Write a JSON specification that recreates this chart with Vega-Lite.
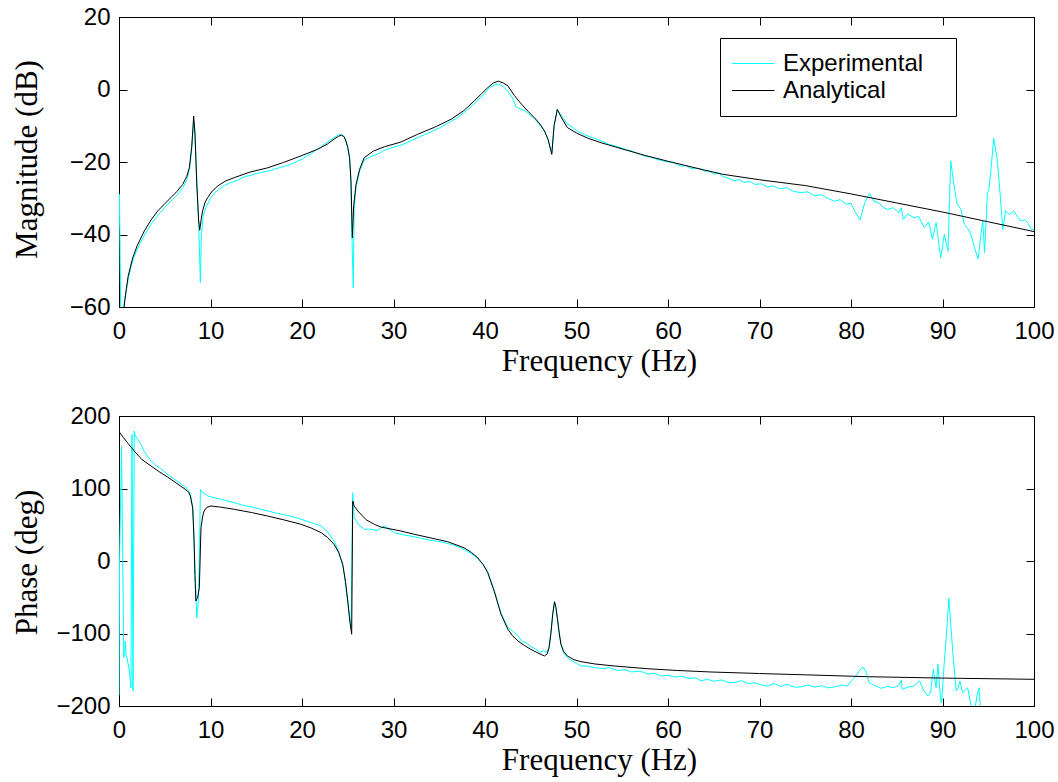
{
  "$schema": "https://vega.github.io/schema/vega-lite/v6.json",
  "autosize": {"type": "pad"},
  "padding": {"left": 10, "top": 4, "right": 5, "bottom": 5},
  "background": "white",
  "spacing": 109,
  "bounds": "flush",
  "config": {
    "view": {"stroke": "black", "strokeWidth": 1},
    "axis": {
      "grid": false,
      "domainColor": "black",
      "tickColor": "black",
      "tickSize": -8,
      "labelFont": "Liberation Sans",
      "labelFontSize": 24,
      "labelColor": "black",
      "labelFlush": false,
      "labelOverlap": false,
      "titleFont": "Liberation Serif",
      "titleFontSize": 31,
      "titleFontWeight": "normal",
      "titleColor": "black"
    },
    "legend": {
      "orient": "none",
      "legendX": 601,
      "legendY": 21,
      "strokeColor": "black",
      "fillColor": "white",
      "padding": 12,
      "symbolOffset": -2,
      "symbolType": "stroke",
      "symbolSize": 1936,
      "symbolStrokeWidth": 1,
      "labelFont": "Liberation Sans",
      "labelFontSize": 24,
      "labelColor": "black",
      "labelOffset": 8,
      "labelLimit": 400,
      "clipHeight": 27,
      "rowPadding": 0
    }
  },
  "datasets": {
    "magE": [
      {"f":0.0,"v":-38},{"f":0.05,"v":-28.9},{"f":0.12,"v":-45},{"f":0.2,"v":-64},{"f":0.45,"v":-64},{"f":0.6,"v":-58},{"f":0.8,"v":-55.5},{"f":1.0,"v":-52.5},{"f":1.3,"v":-49},{"f":1.6,"v":-46.5},{"f":2.0,"v":-44},{"f":2.5,"v":-41.5},{"f":3.0,"v":-39.2},{"f":3.5,"v":-37.2},{"f":4.0,"v":-35.5},{"f":4.5,"v":-34},{"f":5.0,"v":-32.6},{"f":5.5,"v":-31.2},{"f":6.0,"v":-30},{"f":6.5,"v":-28.6},{"f":7.0,"v":-27.0},{"f":7.4,"v":-25},{"f":7.7,"v":-22},{"f":7.95,"v":-16.5},{"f":8.15,"v":-8.5},{"f":8.3,"v":-12},{"f":8.5,"v":-25},{"f":8.7,"v":-36},{"f":8.89,"v":-53.3},{"f":9.0,"v":-40},{"f":9.2,"v":-35},{"f":9.5,"v":-32.5},{"f":10,"v":-30},{"f":10.5,"v":-28.4},{"f":11,"v":-27.4},{"f":11.5,"v":-26.5},{"f":12,"v":-25.9},{"f":12.5,"v":-25.4},{"f":13,"v":-25.0},{"f":13.5,"v":-24.3},{"f":14,"v":-23.9},{"f":14.5,"v":-23.6},{"f":15,"v":-23.2},{"f":15.5,"v":-22.9},{"f":16,"v":-22.6},{"f":16.5,"v":-22.4},{"f":17,"v":-22.0},{"f":17.5,"v":-21.6},{"f":18,"v":-21.2},{"f":18.5,"v":-20.9},{"f":19,"v":-20.4},{"f":19.5,"v":-19.8},{"f":20,"v":-19.2},{"f":20.5,"v":-18.4},{"f":21,"v":-17.7},{"f":21.5,"v":-16.7},{"f":22,"v":-16.0},{"f":22.5,"v":-15.0},{"f":23,"v":-14.1},{"f":23.5,"v":-13.3},{"f":24.0,"v":-12.5},{"f":24.3,"v":-12.4},{"f":24.6,"v":-13},{"f":24.8,"v":-14.2},{"f":25.0,"v":-16},{"f":25.2,"v":-19},{"f":25.35,"v":-26},{"f":25.5,"v":-45},{"f":25.6,"v":-54.7},{"f":25.7,"v":-33},{"f":25.9,"v":-27},{"f":26.3,"v":-22.5},{"f":26.8,"v":-19.5},{"f":27.3,"v":-18.8},{"f":27.8,"v":-18.2},{"f":28.3,"v":-17.8},{"f":28.8,"v":-17.0},{"f":29.3,"v":-16.5},{"f":30,"v":-15.9},{"f":31,"v":-15.2},{"f":32,"v":-14.0},{"f":33,"v":-12.9},{"f":34,"v":-11.8},{"f":35,"v":-10.6},{"f":36,"v":-9.2},{"f":37,"v":-7.8},{"f":38,"v":-5.8},{"f":39,"v":-3.5},{"f":39.8,"v":-1.5},{"f":40.5,"v":0.5},{"f":41.2,"v":1.5},{"f":41.6,"v":1.4},{"f":42.0,"v":0.8},{"f":42.5,"v":-0.5},{"f":43.0,"v":-2.3},{"f":43.4,"v":-4.8},{"f":43.8,"v":-5.3},{"f":44.3,"v":-5.8},{"f":44.8,"v":-6.8},{"f":45.4,"v":-8.0},{"f":46.0,"v":-9.8},{"f":46.5,"v":-11.5},{"f":46.9,"v":-14},{"f":47.3,"v":-17.5},{"f":47.55,"v":-10},{"f":47.9,"v":-5.6},{"f":48.3,"v":-7},{"f":49.0,"v":-9.5},{"f":49.5,"v":-10.3},{"f":50.0,"v":-11.3},{"f":50.5,"v":-12.0},{"f":51,"v":-12.6},{"f":51.5,"v":-13.1},{"f":52,"v":-13.5},{"f":52.5,"v":-14.0},{"f":53,"v":-14.5},{"f":53.5,"v":-15.1},{"f":54,"v":-15.4},{"f":54.5,"v":-15.8},{"f":55,"v":-16.2},{"f":55.5,"v":-16.7},{"f":56,"v":-16.9},{"f":56.5,"v":-17.5},{"f":57,"v":-17.9},{"f":57.5,"v":-18.4},{"f":58,"v":-18.6},{"f":58.5,"v":-19.0},{"f":59,"v":-19.4},{"f":59.5,"v":-19.7},{"f":60,"v":-20.0},{"f":60.5,"v":-20.1},{"f":61,"v":-20.7},{"f":61.5,"v":-21.2},{"f":62,"v":-21.0},{"f":62.5,"v":-21.8},{"f":63,"v":-21.7},{"f":63.6,"v":-21.9},{"f":64,"v":-22.6},{"f":64.5,"v":-22.4},{"f":65,"v":-23.4},{"f":65.5,"v":-23.0},{"f":66,"v":-24.0},{"f":66.5,"v":-24.4},{"f":67.2,"v":-25.1},{"f":67.8,"v":-24.9},{"f":68.3,"v":-25.6},{"f":69,"v":-25.4},{"f":69.5,"v":-26.2},{"f":70.2,"v":-26.0},{"f":70.9,"v":-26.9},{"f":71.5,"v":-26.6},{"f":72.2,"v":-27.4},{"f":73,"v":-27.1},{"f":73.6,"v":-28.0},{"f":74.5,"v":-28.5},{"f":75.2,"v":-28.2},{"f":76,"v":-29.3},{"f":76.8,"v":-29.0},{"f":77.5,"v":-30.1},{"f":78.2,"v":-30.8},{"f":78.8,"v":-30.4},{"f":79.5,"v":-31.6},{"f":80,"v":-31.4},{"f":80.4,"v":-33.5},{"f":81.0,"v":-36.0},{"f":81.5,"v":-31.2},{"f":82.0,"v":-28.7},{"f":82.5,"v":-30.8},{"f":83.0,"v":-31.2},{"f":83.5,"v":-32.5},{"f":84.0,"v":-33.1},{"f":84.6,"v":-32.6},{"f":85.2,"v":-34.0},{"f":85.5,"v":-32.6},{"f":85.7,"v":-35.8},{"f":86.2,"v":-34.3},{"f":86.9,"v":-35.4},{"f":87.4,"v":-35.0},{"f":88.0,"v":-38.1},{"f":88.5,"v":-36.5},{"f":88.9,"v":-41.3},{"f":89.3,"v":-36.7},{"f":89.8,"v":-46.4},{"f":90.2,"v":-40},{"f":90.6,"v":-44.6},{"f":90.9,"v":-19.7},{"f":91.3,"v":-27.1},{"f":91.6,"v":-31.5},{"f":92.0,"v":-33},{"f":92.4,"v":-37.2},{"f":92.8,"v":-38.5},{"f":93.1,"v":-40},{"f":93.5,"v":-43.6},{"f":93.9,"v":-46.8},{"f":94.2,"v":-40},{"f":94.4,"v":-36.3},{"f":94.6,"v":-45.0},{"f":94.9,"v":-28.9},{"f":95.1,"v":-27.1},{"f":95.3,"v":-22},{"f":95.6,"v":-13.5},{"f":96.0,"v":-19.7},{"f":96.3,"v":-28.9},{"f":96.6,"v":-38.6},{"f":96.9,"v":-33.5},{"f":97.3,"v":-34.5},{"f":97.8,"v":-33.5},{"f":98.2,"v":-35.2},{"f":98.6,"v":-36.3},{"f":99.0,"v":-36.0},{"f":99.3,"v":-36.7},{"f":99.7,"v":-38.6},{"f":100,"v":-38.6}
    ],
    "magA": [
      {"f":0.3,"v":-75},{"f":0.55,"v":-60},{"f":0.8,"v":-55},{"f":1.0,"v":-51.5},{"f":1.5,"v":-46.4},{"f":2.0,"v":-43},{"f":2.77,"v":-39.0},{"f":3.5,"v":-36},{"f":4.23,"v":-33.5},{"f":5.0,"v":-31.5},{"f":5.68,"v":-29.8},{"f":6.3,"v":-28.2},{"f":6.96,"v":-26.2},{"f":7.4,"v":-24.0},{"f":7.69,"v":-21.6},{"f":7.94,"v":-16.0},{"f":8.1,"v":-10},{"f":8.16,"v":-7.3},{"f":8.3,"v":-12},{"f":8.5,"v":-26},{"f":8.7,"v":-36},{"f":8.82,"v":-38.8},{"f":9.0,"v":-35.5},{"f":9.14,"v":-33.5},{"f":9.4,"v":-31.2},{"f":9.69,"v":-29.8},{"f":10.2,"v":-28},{"f":10.8,"v":-26.6},{"f":11.6,"v":-25.3},{"f":12.6,"v":-24.3},{"f":14.3,"v":-22.8},{"f":16.25,"v":-21.6},{"f":18,"v":-20.1},{"f":19.9,"v":-18.3},{"f":21.7,"v":-16.5},{"f":22.8,"v":-15.0},{"f":23.5,"v":-13.7},{"f":24.0,"v":-12.9},{"f":24.3,"v":-12.6},{"f":24.6,"v":-13.0},{"f":24.8,"v":-14.2},{"f":25.0,"v":-16.0},{"f":25.2,"v":-18.8},{"f":25.35,"v":-25},{"f":25.5,"v":-40.9},{"f":25.65,"v":-32},{"f":25.9,"v":-26.2},{"f":26.3,"v":-22},{"f":26.8,"v":-18.8},{"f":27.8,"v":-17.0},{"f":29.0,"v":-15.8},{"f":30.8,"v":-14.5},{"f":32.6,"v":-12.4},{"f":34.5,"v":-10.4},{"f":36.3,"v":-8.2},{"f":37.7,"v":-5.8},{"f":38.8,"v":-3.2},{"f":39.6,"v":-1.2},{"f":40.3,"v":0.5},{"f":40.9,"v":1.8},{"f":41.45,"v":2.3},{"f":42.0,"v":1.8},{"f":42.5,"v":1.0},{"f":43.2,"v":-1.6},{"f":44.0,"v":-4.1},{"f":44.7,"v":-6.0},{"f":45.4,"v":-7.8},{"f":46.0,"v":-9.5},{"f":46.5,"v":-11.4},{"f":46.9,"v":-13.8},{"f":47.3,"v":-17.9},{"f":47.55,"v":-10},{"f":47.9,"v":-5.5},{"f":48.3,"v":-7.5},{"f":49.0,"v":-10.5},{"f":50.0,"v":-12.0},{"f":51.2,"v":-13.4},{"f":52.7,"v":-14.7},{"f":55,"v":-16.4},{"f":57.5,"v":-18.2},{"f":60,"v":-19.8},{"f":63.6,"v":-22.0},{"f":66,"v":-23.4},{"f":70,"v":-24.9},{"f":75,"v":-26.5},{"f":80,"v":-28.8},{"f":85,"v":-31.3},{"f":90,"v":-33.8},{"f":95,"v":-36.5},{"f":100,"v":-39.2}
    ],
    "phE": [
      {"f":0.0,"v":-185},{"f":0.06,"v":0},{"f":0.28,"v":158.6},{"f":0.42,"v":-9},{"f":0.52,"v":-133.4},{"f":0.62,"v":-125},{"f":0.68,"v":-110.3},{"f":0.77,"v":-128.7},{"f":0.9,"v":-135},{"f":1.13,"v":-151.7},{"f":1.31,"v":-174.8},{"f":1.42,"v":174.8},{"f":1.53,"v":-179.3},{"f":1.67,"v":179.3},{"f":1.8,"v":172},{"f":2.04,"v":167.8},{"f":2.4,"v":161},{"f":2.8,"v":150},{"f":3.2,"v":143},{"f":3.5,"v":137.9},{"f":4.0,"v":132},{"f":4.5,"v":128},{"f":5.3,"v":119.6},{"f":6.0,"v":113},{"f":6.6,"v":108},{"f":7.1,"v":103.4},{"f":7.5,"v":99},{"f":7.8,"v":92},{"f":8.1,"v":70},{"f":8.3,"v":-10},{"f":8.5,"v":-78.2},{"f":8.67,"v":-55.2},{"f":8.8,"v":20},{"f":8.9,"v":98.9},{"f":9.2,"v":94},{"f":9.7,"v":89.7},{"f":10.5,"v":87},{"f":11.5,"v":84},{"f":12.6,"v":80.4},{"f":13.5,"v":77},{"f":14.5,"v":74.5},{"f":15.3,"v":72},{"f":16.25,"v":69},{"f":17.2,"v":66},{"f":18,"v":64},{"f":19,"v":61},{"f":19.9,"v":57.5},{"f":21,"v":53},{"f":22.1,"v":48.3},{"f":22.8,"v":40},{"f":23.5,"v":27.6},{"f":24.0,"v":14},{"f":24.5,"v":-8},{"f":25.0,"v":-55.2},{"f":25.2,"v":-80},{"f":25.36,"v":-92},{"f":25.54,"v":94.1},{"f":25.7,"v":59.7},{"f":26.2,"v":50},{"f":26.8,"v":43.7},{"f":27.5,"v":44},{"f":28.2,"v":42},{"f":29.0,"v":48.3},{"f":30.1,"v":39},{"f":30.8,"v":36.8},{"f":32,"v":34},{"f":33,"v":31.5},{"f":34,"v":28.5},{"f":35,"v":27},{"f":36,"v":24},{"f":37,"v":20},{"f":38,"v":14},{"f":39,"v":6},{"f":39.8,"v":-5},{"f":40.3,"v":-15},{"f":41.0,"v":-40},{"f":41.75,"v":-72},{"f":42.5,"v":-92},{"f":43.0,"v":-96},{"f":43.3,"v":-100},{"f":43.6,"v":-103},{"f":44.0,"v":-110},{"f":44.5,"v":-113},{"f":45.0,"v":-118},{"f":45.5,"v":-121},{"f":46.0,"v":-126},{"f":46.4,"v":-124},{"f":46.8,"v":-126},{"f":47.0,"v":-118},{"f":47.2,"v":-100},{"f":47.4,"v":-73},{"f":47.6,"v":-57},{"f":47.75,"v":-64},{"f":47.9,"v":-78},{"f":48.1,"v":-100},{"f":48.3,"v":-115},{"f":48.6,"v":-127},{"f":49.0,"v":-133},{"f":49.5,"v":-138},{"f":50,"v":-141},{"f":50.5,"v":-144.8},{"f":51.2,"v":-145},{"f":52,"v":-147},{"f":53,"v":-148.5},{"f":53.6,"v":-147},{"f":54.5,"v":-151},{"f":55.3,"v":-150},{"f":56,"v":-153},{"f":57,"v":-152},{"f":57.8,"v":-156},{"f":58.5,"v":-155},{"f":59.3,"v":-158.6},{"f":60,"v":-157.5},{"f":60.7,"v":-160},{"f":61.5,"v":-159},{"f":62.3,"v":-162},{"f":63,"v":-161},{"f":63.6,"v":-165.5},{"f":64.3,"v":-163},{"f":65,"v":-166},{"f":65.8,"v":-164},{"f":66.5,"v":-167},{"f":67.2,"v":-167.9},{"f":68,"v":-165},{"f":68.8,"v":-169},{"f":69.5,"v":-168},{"f":70.2,"v":-171},{"f":70.9,"v":-172.4},{"f":71.6,"v":-169},{"f":72.3,"v":-173},{"f":73,"v":-170},{"f":73.8,"v":-174},{"f":74.5,"v":-173.8},{"f":75.3,"v":-171},{"f":76,"v":-174},{"f":76.8,"v":-172},{"f":77.5,"v":-175},{"f":78.2,"v":-173.8},{"f":79,"v":-171},{"f":79.6,"v":-172.4},{"f":80.0,"v":-166},{"f":80.4,"v":-161},{"f":80.9,"v":-151.7},{"f":81.3,"v":-146.2},{"f":81.6,"v":-151.7},{"f":82.0,"v":-167.9},{"f":82.6,"v":-172},{"f":83.3,"v":-175.6},{"f":84.0,"v":-173},{"f":84.7,"v":-174.8},{"f":85.2,"v":-171},{"f":85.5,"v":-164.6},{"f":85.6,"v":-177},{"f":86.2,"v":-174},{"f":86.9,"v":-172.4},{"f":87.5,"v":-165.5},{"f":87.9,"v":-178},{"f":88.4,"v":-186.2},{"f":88.7,"v":-181.6},{"f":89.0,"v":-149.4},{"f":89.3,"v":-174.8},{"f":89.5,"v":-142.5},{"f":89.8,"v":-193},{"f":89.9,"v":-195.4},{"f":90.1,"v":-156.3},{"f":90.5,"v":-89.7},{"f":90.7,"v":-51.5},{"f":90.9,"v":-87.3},{"f":91.2,"v":-138},{"f":91.5,"v":-179.3},{"f":91.7,"v":-174.8},{"f":91.9,"v":-165.5},{"f":92.2,"v":-181.6},{"f":92.75,"v":-174.8},{"f":93.1,"v":-197.7},{"f":93.4,"v":-215},{"f":93.8,"v":-183.9},{"f":94.0,"v":-174.8},{"f":94.2,"v":-215}
    ],
    "phA": [
      {"f":0.0,"v":178.4},{"f":0.5,"v":170},{"f":1.0,"v":162},{"f":1.67,"v":151.7},{"f":2.5,"v":140},{"f":3.5,"v":131},{"f":4.4,"v":123},{"f":5.3,"v":115.9},{"f":6.2,"v":108},{"f":7.1,"v":100.2},{"f":7.6,"v":95},{"f":7.8,"v":89.7},{"f":8.05,"v":73.5},{"f":8.2,"v":30},{"f":8.3,"v":-20},{"f":8.4,"v":-55.2},{"f":8.6,"v":-50},{"f":8.78,"v":-36.8},{"f":8.96,"v":45.9},{"f":9.15,"v":62},{"f":9.3,"v":69},{"f":9.6,"v":74},{"f":10.05,"v":75.9},{"f":11,"v":74.5},{"f":12.6,"v":71.3},{"f":14.5,"v":66.8},{"f":16.25,"v":62},{"f":18,"v":56.8},{"f":19.9,"v":50.6},{"f":21.0,"v":45.5},{"f":22.1,"v":39},{"f":22.8,"v":32.5},{"f":23.5,"v":23},{"f":24.0,"v":12},{"f":24.45,"v":-4.6},{"f":24.75,"v":-28},{"f":25.0,"v":-55.2},{"f":25.25,"v":-85},{"f":25.43,"v":-101},{"f":25.54,"v":82.8},{"f":25.7,"v":76},{"f":26.1,"v":69},{"f":27.0,"v":57},{"f":27.9,"v":50.6},{"f":28.6,"v":46.9},{"f":30.8,"v":41.4},{"f":32.3,"v":36.8},{"f":34,"v":32},{"f":35.9,"v":26.7},{"f":37.7,"v":18.3},{"f":38.5,"v":12},{"f":39.2,"v":4.5},{"f":39.8,"v":-5},{"f":40.3,"v":-16.1},{"f":41.0,"v":-41.4},{"f":41.75,"v":-73.5},{"f":42.5,"v":-94.2},{"f":43.0,"v":-103},{"f":43.6,"v":-110.3},{"f":44.3,"v":-116.5},{"f":45.0,"v":-121.8},{"f":45.8,"v":-127},{"f":46.5,"v":-131},{"f":46.8,"v":-128},{"f":47.0,"v":-119.6},{"f":47.2,"v":-100},{"f":47.4,"v":-73.5},{"f":47.6,"v":-56.1},{"f":47.75,"v":-64},{"f":47.9,"v":-78.2},{"f":48.1,"v":-98},{"f":48.3,"v":-114.9},{"f":48.6,"v":-125},{"f":49.0,"v":-131},{"f":49.7,"v":-136},{"f":50.5,"v":-138.9},{"f":52,"v":-142},{"f":54.1,"v":-144.8},{"f":57.8,"v":-148.6},{"f":61,"v":-151},{"f":64.7,"v":-153.1},{"f":70,"v":-155.2},{"f":75,"v":-157},{"f":81.8,"v":-159.6},{"f":90,"v":-161.5},{"f":100,"v":-163.2}
    ]
  },
  "vconcat": [
    {
      "width": 915,
      "height": 290,
      "layer": [
        {
          "data": {"name": "magE"},
          "mark": {"type": "line", "clip": true, "strokeWidth": 1},
          "encoding": {
            "x": {"field": "f", "type": "quantitative", "scale": {"domain": [0, 100], "nice": false, "zero": false},
                  "axis": {"orient": "bottom", "values": [0,10,20,30,40,50,60,70,80,90,100], "title": "Frequency (Hz)", "labelPadding": 20, "titleX": 480, "titleY": 63, "titleAlign": "center", "titleBaseline": "alphabetic"}},
            "y": {"field": "v", "type": "quantitative", "scale": {"domain": [-60, 20], "nice": false, "zero": false},
                  "axis": {"orient": "left", "values": [-60,-40,-20,0,20], "title": "Magnitude (dB)", "labelPadding": 17, "titleX": -83, "titleY": 142, "titleAngle": 270, "titleAlign": "center", "titleBaseline": "alphabetic"}},
            "color": {"datum": "Experimental", "scale": {"domain": ["Experimental", "Analytical"], "range": ["#00FFFF", "#000000"]},
                      "legend": {"title": null, "labelLimit": 400, "labelExpr": "datum.label + '\u00a0\u00a0\u00a0\u200d'"}}
          }
        },
        {
          "data": {"name": "magA"},
          "mark": {"type": "line", "clip": true, "strokeWidth": 1},
          "encoding": {
            "x": {"field": "f", "type": "quantitative", "axis": {"orient": "top", "values": [0,10,20,30,40,50,60,70,80,90,100], "labels": false, "title": null}},
            "y": {"field": "v", "type": "quantitative", "axis": {"orient": "right", "values": [-60,-40,-20,0,20], "labels": false, "title": null}},
            "color": {"datum": "Analytical"}
          }
        }
      ],
      "resolve": {"axis": {"x": "independent", "y": "independent"}}
    },
    {
      "width": 915,
      "height": 290,
      "layer": [
        {
          "data": {"name": "phE"},
          "mark": {"type": "line", "clip": true, "strokeWidth": 1, "stroke": "#00FFFF"},
          "encoding": {
            "x": {"field": "f", "type": "quantitative", "scale": {"domain": [0, 100], "nice": false, "zero": false},
                  "axis": {"orient": "bottom", "values": [0,10,20,30,40,50,60,70,80,90,100], "title": "Frequency (Hz)", "labelPadding": 20, "titleX": 480, "titleY": 63, "titleAlign": "center", "titleBaseline": "alphabetic"}},
            "y": {"field": "v", "type": "quantitative", "scale": {"domain": [-200, 200], "nice": false, "zero": false},
                  "axis": {"orient": "left", "values": [-200,-100,0,100,200], "title": "Phase (deg)", "labelPadding": 17, "titleX": -83, "titleY": 146, "titleAngle": 270, "titleAlign": "center", "titleBaseline": "alphabetic"}}
          }
        },
        {
          "data": {"name": "phA"},
          "mark": {"type": "line", "clip": true, "strokeWidth": 1, "stroke": "#000000"},
          "encoding": {
            "x": {"field": "f", "type": "quantitative", "axis": {"orient": "top", "values": [0,10,20,30,40,50,60,70,80,90,100], "labels": false, "title": null}},
            "y": {"field": "v", "type": "quantitative", "axis": {"orient": "right", "values": [-200,-100,0,100,200], "labels": false, "title": null}}
          }
        }
      ],
      "resolve": {"axis": {"x": "independent", "y": "independent"}}
    }
  ]
}
